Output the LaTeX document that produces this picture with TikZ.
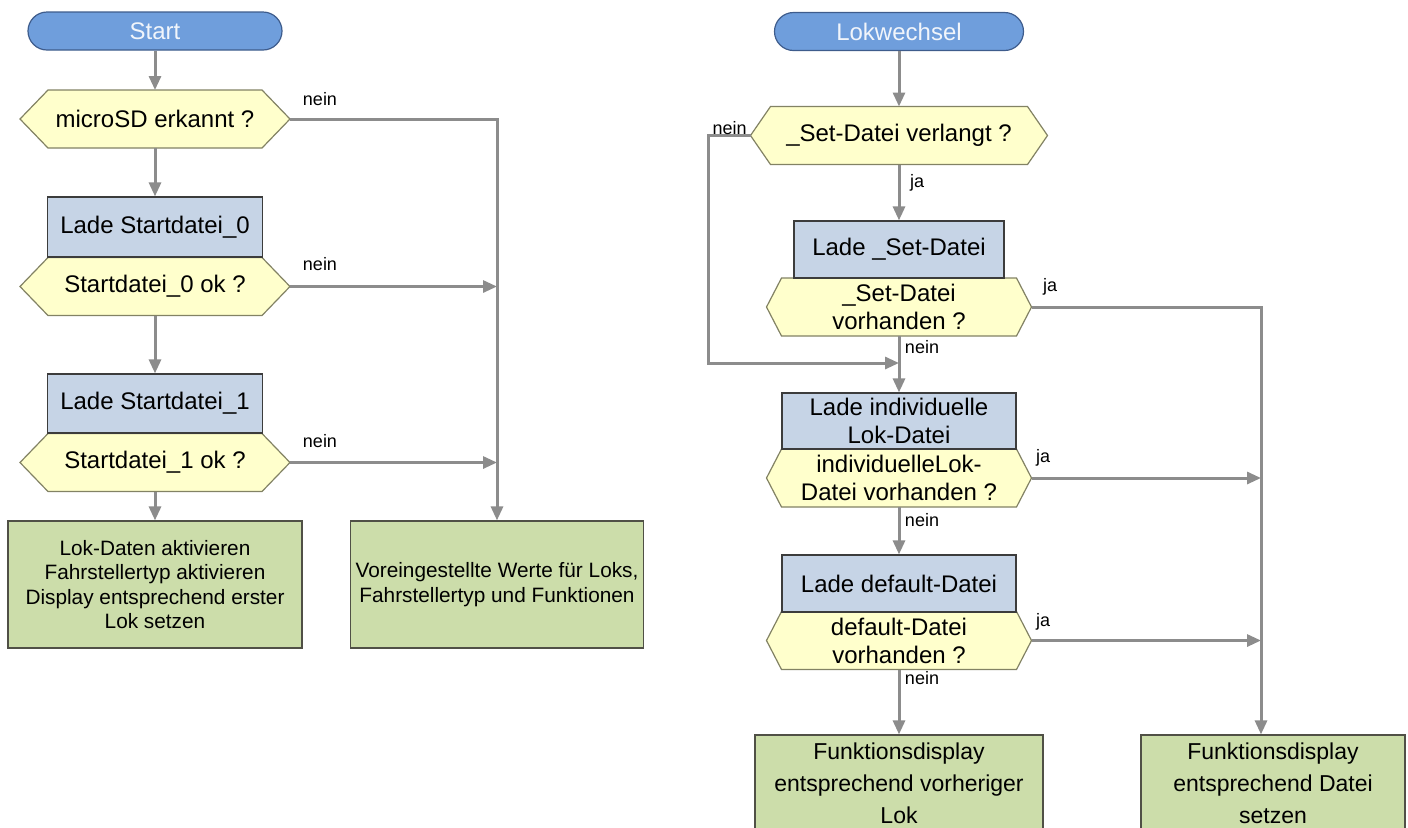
\documentclass[tikz,border=0pt]{standalone}
\usepackage{fontspec}
\setmainfont{Liberation Sans}
\usetikzlibrary{arrows.meta,backgrounds}

\definecolor{termfill}{RGB}{111,158,220}
\definecolor{termdraw}{RGB}{62,92,140}
\definecolor{procfill}{RGB}{198,212,230}
\definecolor{procdraw}{RGB}{60,60,60}
\definecolor{decfill}{RGB}{255,255,204}
\definecolor{decdraw}{RGB}{130,130,100}
\definecolor{endfill}{RGB}{204,221,170}
\definecolor{enddraw}{RGB}{80,80,70}
\definecolor{linegray}{RGB}{140,140,140}

\tikzset{
  term/.style={rectangle, rounded corners=9.5pt, draw=termdraw, fill=termfill, line width=0.6pt,
    text=white!90!termfill, font=\fontsize{12}{14}\selectfont, minimum height=19pt, inner sep=0pt},
  proc/.style={rectangle, draw=procdraw, fill=procfill, line width=0.6pt,
    font=\fontsize{12}{14}\selectfont, align=center, inner sep=0pt},
  decision/.style={rectangle, font=\fontsize{12}{14}\selectfont, align=center,
    minimum height=29pt, inner sep=0pt, outer sep=0pt},
  decshape/.style={draw=decdraw, fill=decfill, line width=0.6pt, line join=miter},
  endbox/.style={rectangle, draw=enddraw, fill=endfill, line width=0.6pt, align=center, inner sep=0pt},
  arr/.style={draw=linegray, line width=1.5pt, -{Triangle[length=7pt,width=6pt]}},
  lbl/.style={font=\fontsize{9}{10}\selectfont, inner sep=0pt}
}

\begin{document}
\begin{tikzpicture}[x=0.5pt,y=-0.5pt]
\clip (0,0) rectangle (1408,827);

% left chart
\node [term, minimum width=127pt] (start) at (155,31) {Start};
\node [decision, minimum width=135pt] (dSD) at (155,119) {microSD erkannt ?};
\node [proc, minimum width=107.5pt, minimum height=30pt] (load0) at (155,227) {Lade Startdatei\_0};
\node [decision, minimum width=135pt] (d0) at (155,286.5) {Startdatei\_0 ok ?};
\node [proc, minimum width=107.5pt, minimum height=29.5pt] (load1) at (155,403.5) {Lade Startdatei\_1};
\node [decision, minimum width=135pt] (d1) at (155,462.5) {Startdatei\_1 ok ?};
\node [endbox, minimum width=147pt, minimum height=63.5pt, font=\fontsize{10.4}{12.2}\selectfont] (endA) at (155,584.5)
  {Lok-Daten aktivieren\\Fahrstellertyp aktivieren\\Display entsprechend erster\\Lok setzen};
\node [endbox, minimum width=146.5pt, minimum height=63.5pt, font=\fontsize{10.4}{12.5}\selectfont] (endB) at (497,584.5)
  {Voreingestellte Werte für Loks,\\Fahrstellertyp und Funktionen};

\draw [arr] (start) -- (dSD);
\draw [arr] (dSD) -- (load0);
\draw [arr] (d0) -- (load1);
\draw [arr] (d1) -- (endA);
\draw [arr] (dSD.east) -| (endB.north);
\draw [arr] (d0.east) -- (d0.east -| endB.north);
\draw [arr] (d1.east) -- (d1.east -| endB.north);

\node [lbl] (neinSD) at (320,99) {nein};
\node [lbl] (nein0) at (320,264) {nein};
\node [lbl] (nein1) at (320,441) {nein};

% right chart
\node [term, minimum width=124.5pt] (lok) at (899,31.5) {Lokwechsel};
\node [decision, minimum width=148.5pt] (dSet) at (899,135.5) {\_Set-Datei verlangt ?};
\node [proc, minimum width=105pt, minimum height=28.5pt] (loadSet) at (899,249.5) {Lade \_Set-Datei};
\node [decision, minimum width=132.5pt] (dSet2) at (899,307) {\_Set-Datei\\vorhanden ?};
\node [proc, minimum width=117pt, minimum height=28pt] (loadInd) at (899,421) {Lade individuelle\\Lok-Datei};
\node [decision, minimum width=132.5pt] (dInd) at (899,478) {individuelleLok-\\Datei vorhanden ?};
\node [proc, minimum width=117pt, minimum height=28.5pt] (loadDef) at (899,583.5) {Lade default-Datei};
\node [decision, minimum width=132.5pt] (dDef) at (899,640.5) {default-Datei\\vorhanden ?};
\node [endbox, minimum width=144pt, minimum height=48pt, font=\fontsize{11.5}{16}\selectfont] (endC) at (899,783)
  {Funktionsdisplay\\entsprechend vorheriger\\Lok};
\node [endbox, minimum width=132pt, minimum height=48pt, font=\fontsize{11.5}{16}\selectfont] (endD) at (1273,783)
  {Funktionsdisplay\\entsprechend Datei\\setzen};

% hexagons behind the decision texts
\begin{scope}[on background layer]
\foreach \d/\c in {dSD/14pt, d0/14pt, d1/14pt, dSet/10pt, dSet2/7.5pt, dInd/7.5pt, dDef/7.5pt}
  \draw [decshape] (\d.west) -- ([xshift=\c]\d.north west) -- ([xshift=-\c]\d.north east)
    -- (\d.east) -- ([xshift=-\c]\d.south east) -- ([xshift=\c]\d.south west) -- cycle;
\end{scope}

\coordinate (loopx) at (708,0);
\coordinate (merge) at (899,363);
\coordinate (busR) at (1261,0);

\draw [arr] (lok) -- (dSet);
\draw [arr] (dSet) -- (loadSet);
\draw [arr] (dSet2) -- (loadInd);
\draw [arr] (dInd) -- (loadDef);
\draw [arr] (dDef) -- (endC);
\draw [arr] (dSet.west) -- (dSet.west -| loopx) |- (merge);
\draw [arr] (dSet2.east) -| (busR |- endD.north);
\draw [arr] (dInd.east) -- (dInd.east -| busR);
\draw [arr] (dDef.east) -- (dDef.east -| busR);

\node [lbl, anchor=east] (neinSet) at (747,128) {nein};
\node [lbl] (jaSet) at (917,183) {ja};
\node [lbl] (jaSet2) at (1050,287) {ja};
\node [lbl] (neinSet2) at (922,347) {nein};
\node [lbl] (jaInd) at (1043,458) {ja};
\node [lbl] (neinInd) at (922,520) {nein};
\node [lbl] (jaDef) at (1043,622) {ja};
\node [lbl] (neinDef) at (922,678) {nein};
\end{tikzpicture}
\end{document}
